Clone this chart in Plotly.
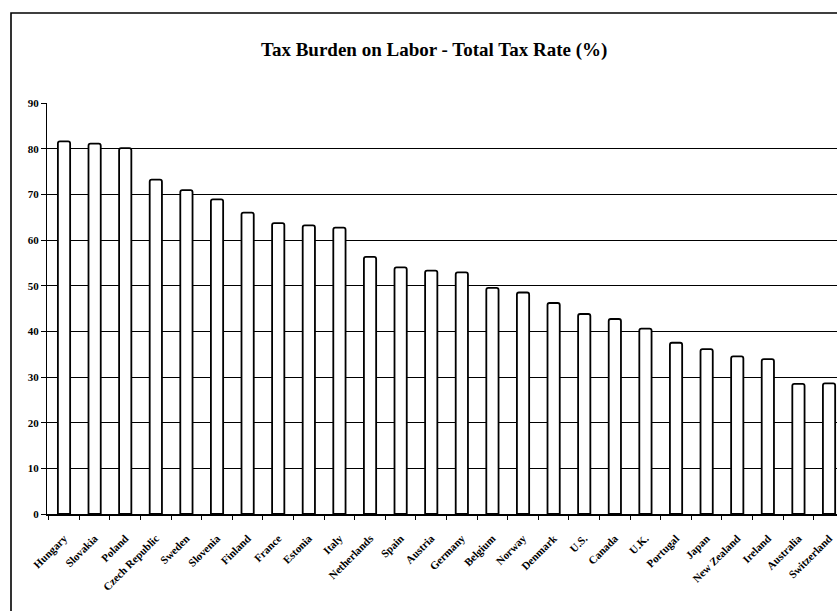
import plotly.graph_objects as go

# Total tax rate on labour, by country (%)
countries = [
    "Hungary", "Slovakia", "Poland", "Czech Republic", "Sweden", "Slovenia",
    "Finland", "France", "Estonia", "Italy", "Netherlands", "Spain", "Austria",
    "Germany", "Belgium", "Norway", "Denmark", "U.S.", "Canada", "U.K.",
    "Portugal", "Japan", "New Zealand", "Ireland", "Australia", "Switzerland",
]
tax_rate = [
    81.6, 81.1, 80.1, 73.2, 70.9, 68.9,
    66.0, 63.7, 63.2, 62.7, 56.3, 54.0, 53.3,
    52.9, 49.5, 48.5, 46.2, 43.8, 42.7, 40.6,
    37.5, 36.1, 34.5, 33.9, 28.5, 28.6,
]
y_ticks = [0, 10, 20, 30, 40, 50, 60, 70, 80, 90]

serif = "Liberation Serif, Times New Roman, serif"

fig = go.Figure(
    go.Bar(
        x=countries,
        y=tax_rate,
        width=0.4,
        marker=dict(color="white", line=dict(color="black", width=1.8), cornerradius=2),
        hoverinfo="x+y",
    )
)

W, H = 837, 611
left, top, bottom = 47, 103, 97
plot_w = W - left
plot_h = H - top - bottom

fig.update_layout(
    width=W,
    height=H,
    margin=dict(l=left, r=0, t=top, b=bottom),
    paper_bgcolor="white",
    plot_bgcolor="white",
    showlegend=False,
    font=dict(family=serif, color="black"),
    bargap=0.6,
)

fig.update_xaxes(
    type="category",
    range=[-0.556, 25.26],
    tickangle=-45,
    tickfont=dict(family=serif, size=11, color="black", weight="bold"),
    ticklabelstandoff=12,
    showline=True,
    linecolor="black",
    linewidth=1.5,
    ticks="outside",
    tickson="boundaries",
    ticklen=4,
    tickcolor="black",
    showgrid=False,
    automargin=False,
)

fig.update_yaxes(
    range=[0, 90],
    tickvals=y_ticks,
    ticktext=[str(v) for v in y_ticks],
    tickfont=dict(family=serif, size=11, color="black", weight="bold"),
    showline=True,
    linecolor="black",
    linewidth=1.2,
    ticks="outside",
    ticklen=5,
    tickcolor="black",
    showgrid=True,
    gridcolor="black",
    gridwidth=1,
    zeroline=False,
    automargin=False,
)

# Outer chart frame (left and top edges fall inside the page)
fig.add_shape(
    type="rect",
    xref="paper", yref="paper",
    x0=(11 - left) / plot_w, x1=1.05,
    y0=-(bottom + 5) / plot_h, y1=(plot_h + top - 13) / plot_h,
    line=dict(color="black", width=1.6),
    fillcolor="rgba(0,0,0,0)",
    layer="above",
)

fig.add_annotation(
    text="<b>Tax Burden on Labor - Total Tax Rate (%)</b>",
    xref="paper", yref="paper",
    x=(434 - left) / plot_w, y=(plot_h + top - 50) / plot_h,
    xanchor="center", yanchor="middle",
    showarrow=False,
    font=dict(family=serif, size=19, color="black"),
)

fig.write_html("out.html")
